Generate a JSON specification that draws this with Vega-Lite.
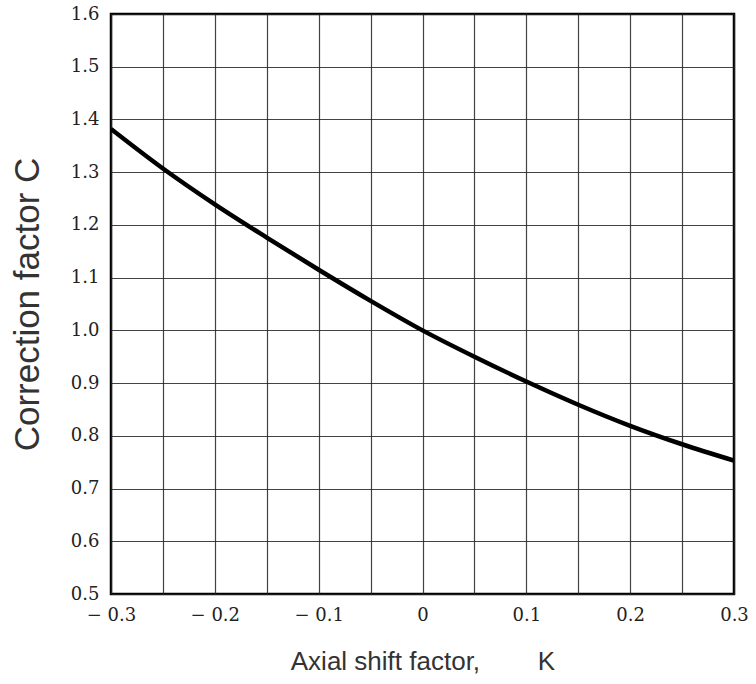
{
  "$schema": "https://vega.github.io/schema/vega-lite/v6.json",
  "width": 623,
  "height": 580,
  "autosize": {"type": "none"},
  "padding": {"left": 111, "top": 14, "right": 22, "bottom": 90},
  "background": "white",
  "config": {
    "view": {"stroke": "#000000", "strokeWidth": 2.5},
    "axis": {
      "grid": true,
      "gridColor": "#222222",
      "gridWidth": 1.2,
      "gridOpacity": 0.85,
      "domain": false,
      "ticks": false,
      "labelFont": "DejaVu Serif",
      "labelFontSize": 18,
      "labelColor": "#222222",
      "titleFont": "Liberation Sans",
      "titleFontWeight": "normal",
      "titleColor": "#333333"
    }
  },
  "data": {
    "values": [
      {"K": -0.3, "C": 1.382},
      {"K": -0.25, "C": 1.307},
      {"K": -0.2, "C": 1.239},
      {"K": -0.15, "C": 1.176},
      {"K": -0.1, "C": 1.115},
      {"K": -0.05, "C": 1.056},
      {"K": 0.0, "C": 1.0},
      {"K": 0.05, "C": 0.95},
      {"K": 0.1, "C": 0.903},
      {"K": 0.15, "C": 0.859},
      {"K": 0.2, "C": 0.819},
      {"K": 0.25, "C": 0.784},
      {"K": 0.3, "C": 0.753}
    ]
  },
  "mark": {"type": "line", "color": "#000000", "strokeWidth": 4.5, "interpolate": "monotone", "clip": true},
  "encoding": {
    "x": {
      "field": "K",
      "type": "quantitative",
      "scale": {"domain": [-0.3, 0.3], "nice": false, "zero": false},
      "axis": {
        "title": "Axial shift factor,\u00a0\u00a0\u00a0\u00a0\u00a0\u00a0\u00a0\u00a0K",
        "titleFontSize": 26,
        "values": [-0.3, -0.25, -0.2, -0.15, -0.1, -0.05, 0, 0.05, 0.1, 0.15, 0.2, 0.25, 0.3],
        "labelExpr": "abs(round(datum.value * 100)) % 10 != 0 ? '' : (datum.value < -0.001 ? '\u2212 ' + format(abs(datum.value), '.1f') : (abs(datum.value) < 0.001 ? '0' : format(datum.value, '.1f')))",
        "labelPadding": 12,
        "labelFlush": false,
        "labelOverlap": false,
        "titlePadding": 24
      }
    },
    "y": {
      "field": "C",
      "type": "quantitative",
      "scale": {"domain": [0.5, 1.6], "nice": false, "zero": false},
      "axis": {
        "title": "Correction factor C",
        "titleFontSize": 35,
        "values": [0.5, 0.6, 0.7, 0.8, 0.9, 1.0, 1.1, 1.2, 1.3, 1.4, 1.5, 1.6],
        "format": ".1f",
        "labelPadding": 12,
        "labelFlush": false,
        "labelOverlap": false,
        "titlePadding": 25
      }
    }
  }
}
